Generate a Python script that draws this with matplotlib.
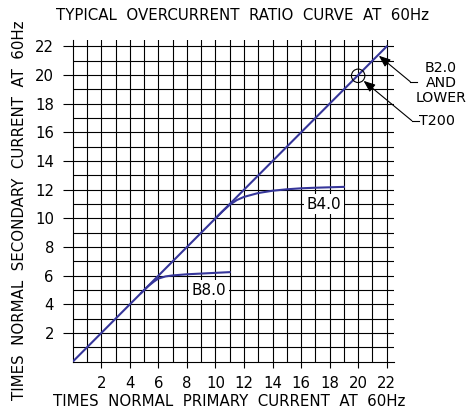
import numpy as np
import matplotlib
matplotlib.use("Agg")
import matplotlib.pyplot as plt
from matplotlib.patches import Circle

# data
diag_x = [0, 22]
diag_y = [0, 22]

b8_x = [4.8, 5.3, 5.7, 6.0, 6.5, 7.0, 8.0, 9.0, 10.0, 11.0]
b8_y = [4.8, 5.28, 5.6, 5.8, 5.95, 6.02, 6.1, 6.15, 6.2, 6.25]

b4_x = [10.0, 10.5, 11.0, 11.5, 12.0, 13.0, 14.0, 15.0, 16.0, 17.0, 18.0, 19.0]
b4_y = [10.0, 10.5, 10.95, 11.28, 11.5, 11.77, 11.93, 12.03, 12.1, 12.14, 12.17, 12.2]

ticks = [2, 4, 6, 8, 10, 12, 14, 16, 18, 20, 22]

BLUE = "#36369a"
plt.rcParams['font.family'] = ['DejaVu Sans']

fig = plt.figure(figsize=(4.75, 4.13), dpi=100)
ax = fig.add_axes([0.1531, 0.1242, 0.676, 0.779])
ax.set_xlim(0, 22.5)
ax.set_ylim(0, 22.45)

# grid every 1 unit
for v in range(1, 23):
    ax.axvline(v, color="black", lw=0.8, zorder=1)
    ax.axhline(v, color="black", lw=0.8, zorder=1)

for s in ["top", "right"]:
    ax.spines[s].set_visible(False)
for s in ["left", "bottom"]:
    ax.spines[s].set_linewidth(0.8)

ax.set_xticks(ticks)
ax.set_yticks(ticks)
ax.tick_params(axis="x", direction="out", length=4, width=0.8, pad=6, labelsize=10.7)
ax.tick_params(axis="y", direction="out", length=7.5, width=0.8, pad=6, labelsize=10.7)

ax.plot(diag_x, diag_y, color=BLUE, lw=1.5, zorder=3)
ax.plot(b8_x, b8_y, color=BLUE, lw=1.5, zorder=3)
ax.plot(b4_x, b4_y, color=BLUE, lw=1.5, zorder=3)

box = dict(facecolor="white", edgecolor="none", pad=2)
ax.text(9.57, 5.0, "B8.0", ha="center", va="center", fontsize=11, bbox=box, zorder=4)
ax.text(17.6, 11.0, "B4.0", ha="center", va="center", fontsize=11, bbox=box, zorder=4)

# T200 circle
ax.add_patch(Circle((20, 19.95), 0.47, fill=False, edgecolor="black", lw=0.8, zorder=5))

arrow = dict(arrowstyle="-|>,head_length=0.7,head_width=0.28", color="black", lw=0.8,
             shrinkA=0, shrinkB=0)
ax.annotate("", xy=(21.45, 21.35), xytext=(23.65, 19.54), arrowprops=arrow,
            annotation_clip=False)
ax.plot([23.65, 24.15], [19.54, 19.54], color="black", lw=0.8, clip_on=False)
ax.annotate("", xy=(20.38, 19.6), xytext=(23.76, 16.82), arrowprops=arrow,
            annotation_clip=False)
ax.plot([23.76, 24.25], [16.82, 16.82], color="black", lw=0.8, clip_on=False)

fig.text(441 / 475, 1 - 83 / 413, "B2.0\nAND\nLOWER", ha="center", va="center",
         fontsize=10.2, linespacing=1.1)
fig.text(419 / 475, 1 - 121 / 413, "T200", ha="left", va="center", fontsize=10.3)

fig.text(242 / 475, 1 - 15 / 413, "TYPICAL  OVERCURRENT  RATIO  CURVE  AT  60Hz",
         ha="center", va="center", fontsize=10.8)
fig.text(229 / 475, 1 - 401 / 413, "TIMES  NORMAL  PRIMARY  CURRENT  AT  60Hz",
         ha="center", va="center", fontsize=10.8)
fig.text(20 / 475, 1 - 210 / 413, "TIMES  NORMAL  SECONDARY  CURRENT  AT  60Hz",
         ha="center", va="center", fontsize=10.8, rotation=90)

fig.savefig("out.png", dpi=100)
